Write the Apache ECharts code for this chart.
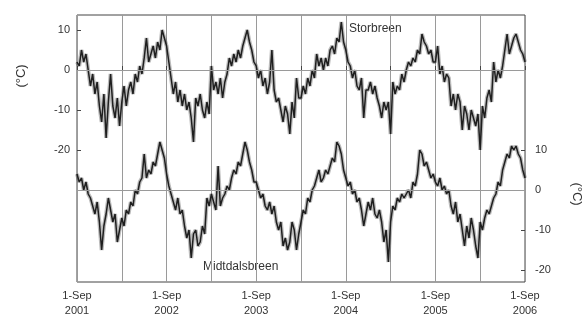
<!DOCTYPE html>
<html>
<head>
<meta charset="utf-8">
<script src="https://cdn.jsdelivr.net/npm/echarts@6/dist/echarts.min.js"></script>
<style>
html, body { margin: 0; padding: 0; background: #fff; }
#chart { width: 588px; height: 322px; }
</style>
</head>
<body>
<div id="chart"></div>
<script>
// air temperature (°C), one value every 1/40 year starting 1 Sep 2001
const yearLabels = ['2001', '2002', '2003', '2004', '2005', '2006'];
const stepYears = 0.025;

const storbreen = [
  2, 1, 5, 2, 4, 0, -4, -1, -6, -3,
  -9, -13, -6, -17, -8, -1, -9, -12, -7, -14,
  -8, -4, -9, -5, -3, -6, -1, -3, 1, -1,
  3, 8, 2, 4, 6, 3, 7, 5, 10, 8,
  6, 2, -2, -6, -3, -8, -5, -9, -6, -10,
  -8, -12, -18, -7, -9, -6, -10, -12, -8, -11,
  1, -5, -3, -6, -2, -7, -3, -1, 3, 1,
  4, 2, 5, 3, 6, 8, 10, 7, 5, 2,
  1, -2, 0, -4, -2, -6, -3, 5, -5, -8,
  -7, -10, -13, -9, -11, -16, -8, -12, -2, -7,
  -7, -4, -6, -2, -4, 0, -2, 4, 1, 3,
  0, 3, 1, 5, 6, 4, 8, 7, 12, 7,
  5, 2, 1, -2, 0, -4, -5, -2, -12, -5,
  -5, -3, -6, -4, -7, -9, -12, -8, -10, -8,
  -16, -3, -6, -4, -5, -1, -3, 0, 2, 1,
  3, 2, 5, 4, 9, 7, 6, 4, 5, 2,
  2, 6, -1, 1, -3, -1, -2, -9, -6, -10,
  -6, -8, -15, -9, -11, -15, -10, -12, -14, -11,
  -20, -9, -12, -7, -5, -8, 2, -3, 0, -2,
  1, 5, 9, 4, 6, 8, 9, 7, 5, 4,
  2
];

const midtdalsbreen = [
  4, 2, 3, 0, 2, -1, -2, -4, -6, -3,
  -8, -15, -9, -6, -2, -5, -8, -6, -13, -10,
  -7, -9, -5, -6, -3, -4, 0, -1, 2, 3,
  9, 3, 5, 4, 7, 6, 9, 12, 10, 8,
  4, 1, -1, -3, -5, -2, -6, -5, -9, -12,
  -10, -17, -11, -10, -14, -13, -9, -11, -2, -4,
  -1, -3, -5, 6, -4, -2, -1, 1, 0, 3,
  5, 4, 7, 6, 9, 12, 10, 7, 5, 2,
  2, 0, -2, -1, -4, -5, -3, -6, -4, -8,
  -10, -8, -14, -12, -15, -13, -8, -10, -15, -11,
  -8, -5, -6, -2, -3, 0, 1, 3, 5, 2,
  3, 5, 4, 6, 8, 7, 12, 11, 9, 5,
  3, 1, 2, -1, 0, -3, -2, -5, -9, -6,
  -3, -5, -2, -6, -7, -5, -8, -13, -10, -18,
  -8, -4, -5, -2, -3, -1, -2, -1, 0, -2,
  2, 1, 4, 10, 9, 6, 7, 5, 3, 4,
  2, 1, 3, 0, 1, -1, 0, -4, -6, -3,
  -8, -6, -10, -14, -9, -12, -7, -10, -14, -17,
  -8, -10, -7, -5, -6, -4, -2, -1, 2, 1,
  5, 7, 9, 8, 11, 10, 11, 9, 8, 5,
  3
];

const leftTicks = [10, 0, -10, -20];
const rightTicks = [10, 0, -10, -20];

const toPoints = arr => arr.map((v, i) => [i * stepYears, v]);

const font = 'Liberation Sans, Arial, sans-serif';
const ink = '#333';

const myChart = echarts.init(document.getElementById('chart'));

const zeroLine = {
  silent: true,
  symbol: 'none',
  label: { show: false },
  lineStyle: { color: '#9a9a9a', type: 'solid', width: 1 },
  data: [{ yAxis: 0 }]
};

// a wide soft line under the dark one, like the smudged daily band of the scan
function band(name, axis, values) {
  return [
    {
      name: name + ' band',
      type: 'line',
      yAxisIndex: axis,
      data: toPoints(values),
      showSymbol: false,
      silent: true,
      lineStyle: { color: 'rgba(60,60,60,0.35)', width: 4 },
      markLine: zeroLine,
      z: 1
    },
    {
      name: name,
      type: 'line',
      yAxisIndex: axis,
      data: toPoints(values),
      showSymbol: false,
      lineStyle: { color: '#1f1f1f', width: 1.5 },
      z: 2
    }
  ];
}

const option = {
  animation: false,
  backgroundColor: '#fff',
  textStyle: { fontFamily: font },
  grid: {
    left: 77, right: 63, top: 15, bottom: 40,
    show: true, borderColor: '#444', borderWidth: 1
  },
  xAxis: {
    type: 'value',
    min: 0,
    max: 5,
    interval: 0.5,
    axisLine: { show: false },
    axisTick: { inside: true, length: 4, lineStyle: { color: '#444' } },
    axisLabel: {
      showMinLabel: true,
      showMaxLabel: true,
      margin: 6,
      fontSize: 11,
      lineHeight: 15,
      color: ink,
      formatter: v => {
        const r = Math.round(v);
        return Math.abs(v - r) < 1e-6 ? '1-Sep\n' + yearLabels[r] : '';
      }
    },
    splitLine: { show: true, lineStyle: { color: '#9a9a9a', width: 1 } }
  },
  yAxis: [
    {
      type: 'value',
      position: 'left',
      min: -53,
      max: 13.75,
      axisLine: { show: false },
      axisTick: { show: true, inside: true, length: 4, customValues: leftTicks, lineStyle: { color: '#444' } },
      axisLabel: { customValues: leftTicks, margin: 7, fontSize: 11, color: ink },
      splitLine: { show: false }
    },
    {
      type: 'value',
      position: 'right',
      min: -23,
      max: 43.75,
      axisLine: { show: false },
      axisTick: { show: true, inside: true, length: 4, customValues: rightTicks, lineStyle: { color: '#444' } },
      axisLabel: { customValues: rightTicks, margin: 10, fontSize: 11, color: ink },
      splitLine: { show: false }
    }
  ],
  series: [].concat(
    band('Storbreen', 0, storbreen),
    band('Midtdalsbreen', 1, midtdalsbreen)
  ),
  graphic: [
    { type: 'text', x: 349, y: 23, style: { text: 'Storbreen', fontSize: 12, fontFamily: font, fill: ink } },
    { type: 'text', x: 203, y: 261, style: { text: 'Midtdalsbreen', fontSize: 12, fontFamily: font, fill: ink } },
    { type: 'text', x: 21, y: 76, rotation: Math.PI / 2,
      style: { text: '(°C)', fontSize: 13, fontFamily: font, fill: ink, align: 'center', verticalAlign: 'middle' } },
    { type: 'text', x: 577, y: 194, rotation: -Math.PI / 2,
      style: { text: '(°C)', fontSize: 13, fontFamily: font, fill: ink, align: 'center', verticalAlign: 'middle' } }
  ]
};

myChart.setOption(option);
</script>
</body>
</html>
